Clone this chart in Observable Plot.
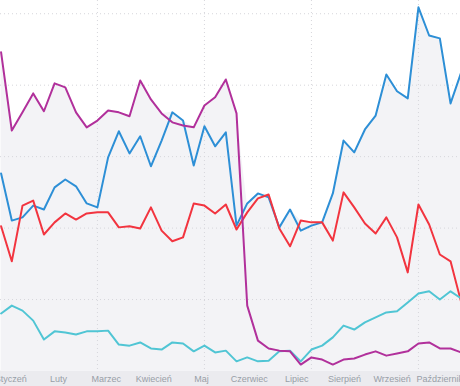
<!DOCTYPE html>
<html>
<head>
<meta charset="utf-8">
<script src="https://cdn.jsdelivr.net/npm/d3@7"></script>
<script src="https://cdn.jsdelivr.net/npm/@observablehq/plot@0.6"></script>
<style>
  html, body { margin: 0; padding: 0; background: #ffffff; overflow: hidden; }
  #chart svg { display: block; overflow: hidden; }
</style>
</head>
<body>
<div id="chart"></div>
<script>
const months = ["Styczeń", "Luty", "Marzec", "Kwiecień", "Maj", "Czerwiec", "Lipiec", "Sierpień", "Wrzesień", "Październik"];

const purple = [89.2, 67.3, 72.4, 77.7, 72.7, 80.5, 79.4, 72.4, 68.2, 70.1, 72.9, 72.4, 71.3, 81.3, 76.0, 72.1, 69.6, 68.7, 68.2, 74.3, 76.6, 81.6, 72.1, 18.3, 8.5, 6.3, 5.7, 5.5, 1.8, 3.8, 3.2, 1.8, 3.2, 3.5, 4.6, 5.5, 4.3, 4.9, 5.5, 7.7, 8.0, 6.3, 6.3, 5.2];
const blue = [55.3, 42.1, 43.0, 46.3, 45.2, 51.4, 53.6, 51.7, 46.9, 45.8, 59.8, 67.1, 60.9, 65.7, 57.3, 64.5, 72.4, 70.1, 57.5, 68.5, 62.9, 66.8, 40.7, 46.9, 49.7, 48.6, 40.2, 45.2, 39.3, 40.7, 41.6, 49.7, 64.5, 61.2, 67.6, 71.5, 83.0, 78.3, 76.3, 101.8, 93.9, 93.1, 74.9, 83.6];
const red = [40.5, 30.7, 46.3, 47.7, 38.2, 41.6, 44.1, 42.4, 44.1, 44.4, 44.4, 40.2, 40.5, 39.9, 45.8, 39.3, 36.3, 37.4, 46.9, 46.3, 44.1, 46.6, 39.6, 44.4, 48.3, 49.4, 39.9, 34.9, 42.1, 41.6, 41.6, 36.5, 50.0, 45.8, 41.3, 38.5, 43.0, 37.4, 27.6, 46.6, 41.0, 32.6, 30.7, 19.2];
const cyan = [16.1, 18.3, 16.9, 14.1, 8.8, 11.1, 10.8, 10.2, 11.1, 11.1, 11.3, 7.4, 7.1, 8.0, 6.3, 6.0, 8.0, 7.7, 5.5, 7.1, 5.2, 5.7, 2.7, 3.8, 2.7, 2.9, 5.5, 5.7, 2.7, 6.0, 7.1, 9.4, 12.7, 11.6, 13.6, 15.0, 16.4, 16.7, 19.2, 21.7, 22.3, 20.0, 22.3, 20.3];

const yTicks = [20, 40, 60, 80, 100];
const xGrid = [9, 19, 29, 39];

const series = [
  {name: "blue", values: blue, color: "#2d8fd6"},
  {name: "red", values: red, color: "#f2343f"},
  {name: "cyan", values: cyan, color: "#50c5d4"},
  {name: "purple", values: purple, color: "#b1309b"}
];

const weeks = d3.range(blue.length);
const envelope = weeks.map(i => ({i, v: Math.max(blue[i], red[i], cyan[i], purple[i])}));
const firstMonth = 0.907, weeksPerMonth = 4.455;
const monthPos = months.map((m, k) => ({name: m, x: firstMonth + weeksPerMonth * k}));

const lineMarks = series.map(s =>
  Plot.line(weeks, {x: i => i, y: i => s.values[i], stroke: s.color, strokeWidth: 2, clip: true})
);

const plot = Plot.plot({
  width: 460,
  height: 386,
  marginLeft: 0,
  marginRight: 0,
  marginTop: 0,
  marginBottom: 15.5,
  style: {background: "#ffffff", fontFamily: "Liberation Sans, Arial, sans-serif"},
  x: {domain: [-0.056, 42.93], axis: null},
  y: {domain: [0, 103.7], axis: null},
  marks: [
    Plot.areaY(envelope, {x: "i", y: "v", fill: "#f3f3f6", clip: true}),
    Plot.gridX(xGrid, {stroke: "#d6d6db", strokeOpacity: 1, strokeDasharray: "1,3"}),
    Plot.gridY(yTicks, {stroke: "#d6d6db", strokeOpacity: 1, strokeDasharray: "1,3"}),
    ...lineMarks,
    Plot.text(monthPos, {x: "x", y: () => 0, text: "name", lineAnchor: "top", dy: 5, fontSize: 9, fill: "#989ea7"})
  ]
});

// axis band behind the month labels
const y0 = plot.scale("y").apply(0);
d3.select(plot).insert("rect", ":first-child")
  .attr("x", 0).attr("y", y0).attr("width", 460).attr("height", 386 - y0)
  .attr("fill", "#ebebef");

document.getElementById("chart").appendChild(plot);
</script>
</body>
</html>
